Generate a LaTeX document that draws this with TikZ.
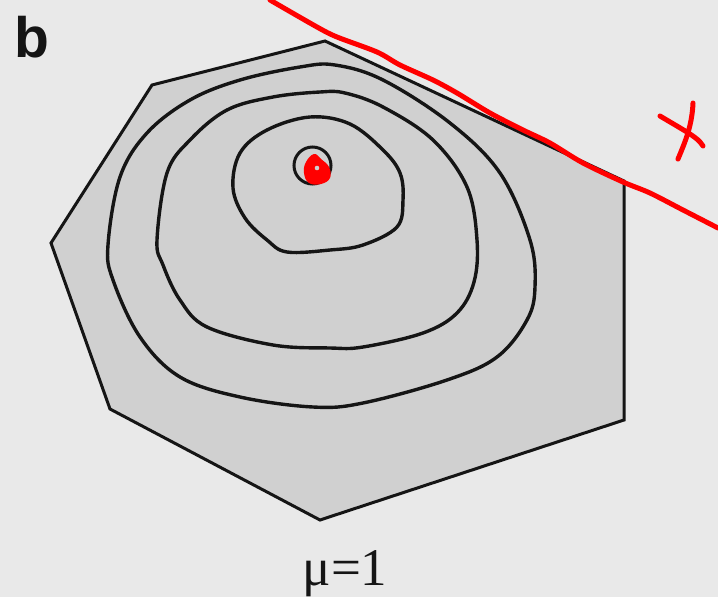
\documentclass[tikz,border=0pt]{standalone}
\usepackage{fontspec}
\setmainfont{Liberation Serif}
\newfontfamily\labelfont{Liberation Sans}
\definecolor{bgc}{HTML}{E9E9E9}
\definecolor{fillc}{HTML}{D0D0D0}
\definecolor{inkc}{HTML}{151515}
\definecolor{redc}{HTML}{FF0000}
\begin{document}
\begin{tikzpicture}[x=1pt,y=-1pt,
  contour/.style={draw=inkc,line width=3.4pt,smooth cycle,tension=0.6},
  redline/.style={draw=redc,line width=5pt,line cap=round,line join=round}]
\fill[bgc] (0,0) rectangle (718,597);
\useasboundingbox (0,0) rectangle (718,597);
% feasible polygon
\filldraw[fill=fillc,draw=inkc,line width=3pt,line join=miter]
  (325,41) -- (152,85) -- (51,243) -- (110,409) -- (320,520) -- (624,420) -- (624,181) -- cycle;
% contours
\draw[contour] plot coordinates {(108,245) (120,177) (147,133) (190,100) (240,80) (300,67) (335,65) (383,80) (450,123) (500,173) (530,240) (535,287) (527,320) (497,357) (447,380) (363,403) (313,407) (240,397) (180,377) (140,337) (113,280)};
\draw[contour] plot coordinates {(157,240) (167,173) (190,140) (227,110) (273,97) (320,92) (345,93) (383,107) (433,140) (467,187) (477,240) (474,282) (457,313) (423,333) (363,347) (330,348) (273,345) (207,327) (180,300) (163,265)};
\draw[contour] plot coordinates {(233,188) (240,153) (267,130) (310,117) (350,124) (383,150) (400,173) (403,200) (397,227) (363,245) (330,250) (287,252) (267,240) (245,218)};
\draw[draw=inkc,line width=3pt] (312.5,165.5) circle (18.5);
% red optimum blob
\fill[redc] plot[smooth cycle,tension=0.7] coordinates {(314,154) (321,159) (329,167) (330,178) (321,184) (309,183) (304,173) (306,162)};
\fill[fillc] (317,168) circle (2.3);
% red line
\draw[redline] plot[smooth,tension=0.5] coordinates {(270,0) (317,27) (337,37) (377,52) (400,65) (433,80) (457,93) (490,113) (523,130) (550,143) (583,163) (623,182) (650,193) (683,210) (718,228)};
% red cross
\draw[redline] (660,116) .. controls (680,128) and (695,136) .. (700,142) -- (703,146);
\draw[redline] (693,103) .. controls (692,125) and (686,140) .. (678,159);
% labels
\node[inner sep=0pt,anchor=base west,font=\labelfont\bfseries\fontsize{57}{57}\selectfont,text=inkc] (lab) at (14,57) {b};
\node[inner sep=0pt,anchor=base,font=\fontsize{53}{53}\selectfont,text=inkc] (mu) at (345,585) {μ=1};
\end{tikzpicture}
\end{document}
